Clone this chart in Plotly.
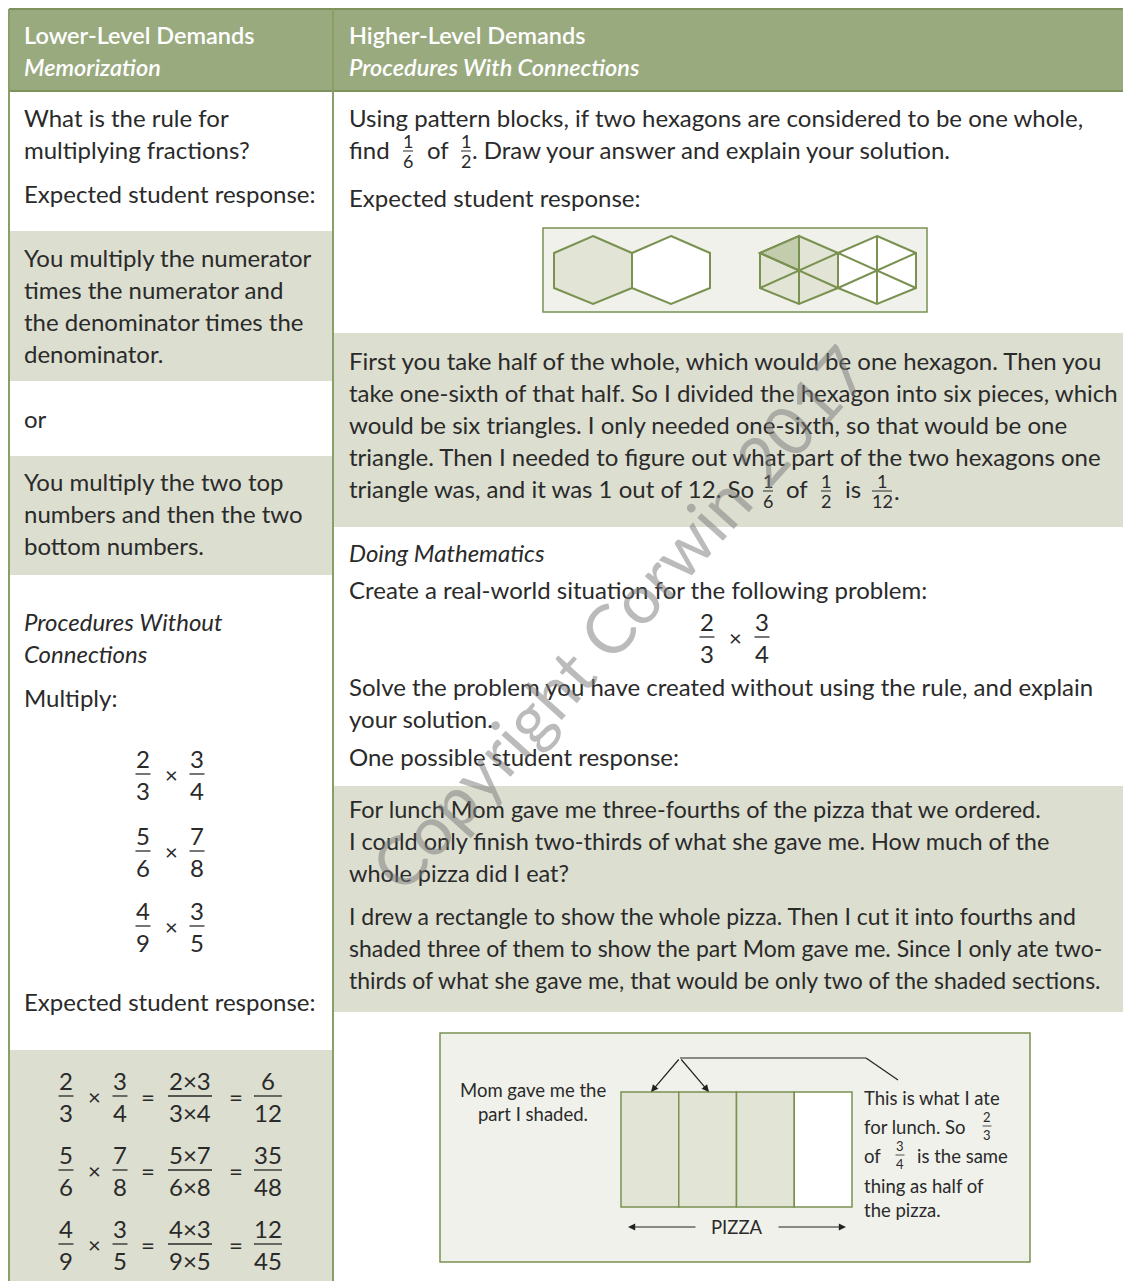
import plotly.graph_objects as go

# ---------------- content ----------------
header_left = ["Lower-Level Demands", "Memorization"]
header_right = ["Higher-Level Demands", "Procedures With Connections"]

left_question = ["What is the rule for", "multiplying fractions?"]
left_prompt = "Expected student response:"
left_answer1 = ["You multiply the numerator", "times the numerator and",
                "the denominator times the", "denominator."]
left_or = "or"
left_answer2 = ["You multiply the two top", "numbers and then the two", "bottom numbers."]
left_title2 = ["Procedures Without", "Connections"]
left_multiply = "Multiply:"
mult_numerators = [["2", "3"], ["5", "7"], ["4", "3"]]
mult_denominators = [["3", "4"], ["6", "8"], ["9", "5"]]
prod_numerators = ["2×3", "5×7", "4×3"]
prod_denominators = ["3×4", "6×8", "9×5"]
result_numerators = ["6", "35", "12"]
result_denominators = ["12", "48", "45"]

right_question = ["Using pattern blocks, if two hexagons are considered to be one whole,"]
right_q2_parts = ["find", "of", ". Draw your answer and explain your solution."]
right_q2_fracs = [("1", "6"), ("1", "2")]
right_prompt = "Expected student response:"
right_answer1 = ["First you take half of the whole, which would be one hexagon. Then you",
                 "take one-sixth of that half. So I divided the hexagon into six pieces, which",
                 "would be six triangles. I only needed one-sixth, so that would be one",
                 "triangle. Then I needed to figure out what part of the two hexagons one"]
right_answer1_last = ["triangle was, and it was 1 out of 12. So", "of", "is", "."]
right_answer1_fracs = [("1", "6"), ("1", "2"), ("1", "12")]
right_title2 = "Doing Mathematics"
right_create = "Create a real-world situation for the following problem:"
right_problem = [("2", "3"), ("3", "4")]
right_solve = ["Solve the problem you have created without using the rule, and explain",
               "your solution."]
right_prompt2 = "One possible student response:"
right_answer2 = ["For lunch Mom gave me three-fourths of the pizza that we ordered.",
                 "I could only finish two-thirds of what she gave me. How much of the",
                 "whole pizza did I eat?"]
right_answer3 = ["I drew a rectangle to show the whole pizza. Then I cut it into fourths and",
                 "shaded three of them to show the part Mom gave me. Since I only ate two-",
                 "thirds of what she gave me, that would be only two of the shaded sections."]
pizza_left_note = ["Mom gave me the", "part I shaded."]
pizza_right_note = ["This is what I ate", "for lunch. So", "of", "is the same",
                    "thing as half of", "the pizza."]
pizza_note_fracs = [("2", "3"), ("3", "4")]
pizza_label = "PIZZA"
pizza_pieces_shaded = [True, True, True, False]
watermark = "Copyright Corwin 2017"

# ---------------- style ----------------
W, H = 1123, 1281
FONT = "Lato"
TEXT = "#2a2a2a"
HDR = "#9AAA7F"
HDR_LINE = "#7E935C"
LINE = "#8A9E68"
SHADE = "#DCDED0"
FIG_FILL = "#F0F1EB"
FIG_LINE = "#7A9150"
HEX_FILL = "#E2E4D6"
HEX_DARK = "#C3CDAE"
FS = 24
SMALL = 18.5

shapes = []
ann = []


def rect(x0, y0, x1, y1, fill, line=None, lw=0):
    shapes.append(dict(type="rect", xref="x", yref="y", x0=x0, y0=y0, x1=x1, y1=y1,
                       fillcolor=fill, line=dict(color=line or fill, width=lw), layer="below"))


def seg(x0, y0, x1, y1, color, lw=1.5, layer="above"):
    shapes.append(dict(type="line", xref="x", yref="y", x0=x0, y0=y0, x1=x1, y1=y1,
                       line=dict(color=color, width=lw), layer=layer))


def poly(pts, fill, line, lw=2):
    path = "M " + " L ".join(f"{x},{y}" for x, y in pts) + " Z"
    shapes.append(dict(type="path", xref="x", yref="y", path=path, fillcolor=fill,
                       line=dict(color=line, width=lw), layer="above"))


def txt(x, y, s, size=FS, anchor="left", color=TEXT, italic=False, weight="normal", angle=0):
    if italic:
        s = f"<i>{s}</i>"
    if anchor == "left":
        x -= 2
    ann.append(dict(x=x, y=y, xref="x", yref="y", text=s, showarrow=False,
                    xanchor=anchor, yanchor="middle", textangle=angle, borderpad=0,
                    font=dict(family=FONT, size=size, color=color, weight=weight)))


def frac(x, y, num, den, size=FS, bar=15, gap=16, lw=1.3):
    txt(x, y - gap, num, size, "center")
    txt(x, y + gap, den, size, "center")
    seg(x - bar / 2, y, x + bar / 2, y, TEXT, lw)


def arrow(x0, y0, x1, y1):
    ann.append(dict(x=x1, y=y1, ax=x0, ay=y0, xref="x", yref="y", axref="x", ayref="y",
                    text="", showarrow=True, arrowhead=2, arrowsize=1.2, arrowwidth=1.2,
                    arrowcolor="#222222", standoff=0, startstandoff=0))


# ---------------- background blocks ----------------
rect(9, 9, W, 91, HDR)
seg(9, 9, W, 9, HDR_LINE, 2)
seg(9, 91, W, 91, HDR_LINE, 2)
for y0, y1 in [(231, 381), (456, 575), (1050, H)]:
    rect(10, y0, 332, y1, SHADE)
for y0, y1 in [(333, 527), (786, 1012)]:
    rect(334, y0, W, y1, SHADE)
seg(9, 9, 9, H, LINE, 2)
seg(333, 9, 333, H, LINE, 2)

# ---------------- headers ----------------
for i, s in enumerate(header_left):
    txt(25, 35 + 32 * i, s, 23.5, color="white", italic=(i == 1), weight=600)
for i, s in enumerate(header_right):
    txt(350, 35 + 32 * i, s, 23.5, color="white", italic=(i == 1), weight=600)

# ---------------- left column ----------------
LX = 25
for i, s in enumerate(left_question):
    txt(LX, 117 + 32 * i, s)
txt(LX, 193, left_prompt)
for i, s in enumerate(left_answer1):
    txt(LX, 257 + 32 * i, s)
txt(LX, 418, left_or)
for i, s in enumerate(left_answer2):
    txt(LX, 481 + 32 * i, s)
for i, s in enumerate(left_title2):
    txt(LX, 621 + 32 * i, s, italic=True)
txt(LX, 697, left_multiply)
for r, ybar in enumerate([774, 851, 926]):
    frac(143, ybar, mult_numerators[r][0], mult_denominators[r][0])
    txt(171, ybar, "×", 22, "center")
    frac(197, ybar, mult_numerators[r][1], mult_denominators[r][1])
txt(LX, 1001, left_prompt)
for r, ybar in enumerate([1096, 1170, 1244]):
    frac(66, ybar, mult_numerators[r][0], mult_denominators[r][0])
    txt(94, ybar, "×", 22, "center")
    frac(120, ybar, mult_numerators[r][1], mult_denominators[r][1])
    txt(148, ybar, "=", FS, "center")
    frac(190, ybar, prod_numerators[r], prod_denominators[r], bar=44)
    txt(236, ybar, "=", FS, "center")
    frac(268, ybar, result_numerators[r], result_denominators[r], bar=28)

# ---------------- right column ----------------
RX = 350
txt(RX, 117, right_question[0])
txt(RX, 149, right_q2_parts[0])
frac(408, 151, *right_q2_fracs[0], size=18, bar=10, gap=10, lw=1)
txt(428, 149, right_q2_parts[1])
frac(466, 151, *right_q2_fracs[1], size=18, bar=10, gap=10, lw=1)
txt(473, 149, right_q2_parts[2])
txt(RX, 197, right_prompt)

# hexagon figure
rect(543, 228, 927, 312, FIG_FILL, FIG_LINE, 1.5)
cy = 270


def hexpts(cx):
    return [(cx, cy - 34), (cx + 39, cy - 17), (cx + 39, cy + 18), (cx, cy + 34),
            (cx - 39, cy + 18), (cx - 39, cy - 17)]


poly(hexpts(593), HEX_FILL, FIG_LINE)
poly(hexpts(671), "white", FIG_LINE)
poly(hexpts(799), HEX_FILL, FIG_LINE)
poly(hexpts(877), "white", FIG_LINE)
p = hexpts(799)
poly([p[5], p[0], (799, cy + 0.5)], HEX_DARK, FIG_LINE)
for cx in (799, 877):
    p = hexpts(cx)
    seg(p[0][0], p[0][1], p[3][0], p[3][1], FIG_LINE, 2)
    seg(p[5][0], p[5][1], p[2][0], p[2][1], FIG_LINE, 2)
    seg(p[4][0], p[4][1], p[1][0], p[1][1], FIG_LINE, 2)

for i, s in enumerate(right_answer1):
    txt(RX, 360 + 32 * i, s)
txt(RX, 488, right_answer1_last[0])
frac(768, 491, *right_answer1_fracs[0], size=18, bar=10, gap=10, lw=1)
txt(787, 488, right_answer1_last[1])
frac(826, 491, *right_answer1_fracs[1], size=18, bar=10, gap=10, lw=1)
txt(846, 488, right_answer1_last[2])
frac(882, 491, *right_answer1_fracs[2], size=18, bar=20, gap=10, lw=1)
txt(895, 490, right_answer1_last[3])

txt(RX, 552, right_title2, italic=True)
txt(RX, 589, right_create)
frac(707, 637, *right_problem[0])
txt(735, 637, "×", 22, "center")
frac(762, 637, *right_problem[1])
for i, s in enumerate(right_solve):
    txt(RX, 686 + 32 * i, s)
txt(RX, 756, right_prompt2)
for i, s in enumerate(right_answer2):
    txt(RX, 809 + 32 * i, s, 23.5)
for i, s in enumerate(right_answer3):
    txt(RX, 916 + 32 * i, s, 23)

# pizza figure
rect(440, 1033, 1030, 1262, FIG_FILL, FIG_LINE, 1.5)
px0, px1, py0, py1 = 621, 852, 1092, 1207
pw = (px1 - px0) / len(pizza_pieces_shaded)
for i, shaded in enumerate(pizza_pieces_shaded):
    shapes.append(dict(type="rect", xref="x", yref="y", x0=px0 + i * pw, x1=px0 + (i + 1) * pw,
                       y0=py0, y1=py1, fillcolor=HEX_FILL if shaded else "white",
                       line=dict(color=FIG_LINE, width=1.5), layer="above"))
for i, s in enumerate(pizza_left_note):
    txt(533, 1090 + 24 * i, s, SMALL, "center")
txt(865, 1098, pizza_right_note[0], SMALL)
txt(865, 1127, pizza_right_note[1], SMALL)
frac(987, 1126, *pizza_note_fracs[0], size=13, bar=9, gap=9, lw=0.8)
txt(865, 1156, pizza_right_note[2], SMALL)
frac(900, 1155, *pizza_note_fracs[1], size=13, bar=9, gap=9, lw=0.8)
txt(918, 1156, pizza_right_note[3], SMALL)
txt(865, 1186, pizza_right_note[4], SMALL)
txt(865, 1210, pizza_right_note[5], SMALL)
txt(737, 1227, pizza_label, SMALL, "center")
arrow(697, 1227, 628, 1227)
arrow(777, 1227, 846, 1227)
arrow(680, 1058, 651, 1092)
arrow(680, 1058, 709, 1092)
seg(680, 1058, 866, 1058, "#222222", 1.2)
seg(866, 1058, 898, 1080, "#222222", 1.2)

# watermark
ann.append(dict(x=618, y=617, xref="x", yref="y", text=watermark, showarrow=False,
                textangle=-48, font=dict(family=FONT, size=68, color="rgba(120,120,120,0.5)",
                                         weight="normal")))

fig = go.Figure()
fig.update_layout(
    width=W, height=H, margin=dict(l=0, r=0, t=0, b=0),
    paper_bgcolor="white", plot_bgcolor="white",
    xaxis=dict(range=[0, W], visible=False, fixedrange=True),
    yaxis=dict(range=[H, 0], visible=False, fixedrange=True),
    shapes=shapes, annotations=ann, showlegend=False,
)
fig.write_html("out.html", config={"displayModeBar": False},
               post_script="document.body.style.margin='0';")
